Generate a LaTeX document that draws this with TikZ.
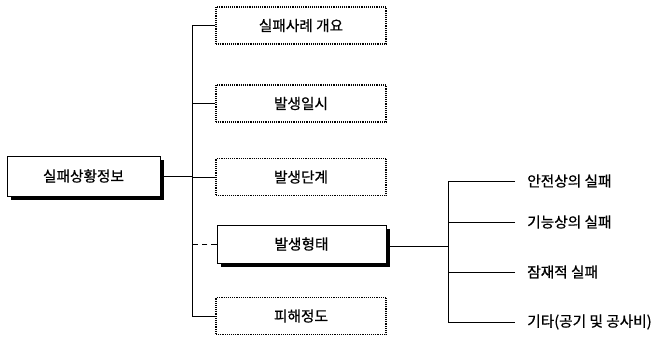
\documentclass[tikz,border=0pt]{standalone}
\usepackage{fontspec}
\setmainfont[FakeBold=0.8]{Noto Sans CJK KR}
\usetikzlibrary{shadows}
\begin{document}
\begin{tikzpicture}[x=0.75pt,y=-0.75pt,
  every node/.style={font=\fontsize{11pt}{13pt}\selectfont},
  dotbox/.style={draw, line width=1.1pt, dash pattern=on 0.7pt off 0.7pt, minimum width=127.5pt, minimum height=27.75pt, inner sep=0pt},
  shbox/.style={draw, fill=white, line width=0.6pt, inner sep=0pt,
     drop shadow={shadow xshift=3pt, shadow yshift=-3pt, fill=black, opacity=1}},
  conn/.style={line width=0.6pt},
  lab/.style={anchor=west, inner xsep=9pt, inner ysep=0pt}
]
\useasboundingbox (0,0) rectangle (659,338);
\node[shbox, minimum width=114.75pt, minimum height=30pt] (main) at (83.5,176) {실패상황정보};
\node[dotbox] (b1) at (301,25.5) {실패사례 개요};
\node[dotbox] (b2) at (301,103.5) {발생일시};
\node[dotbox] (b3) at (301,177) {발생단계};
\node[shbox, minimum width=126.75pt, minimum height=28.5pt] (b4) at (301.5,244) {발생형태};
\node[dotbox] (b5) at (301,316) {피해정도};

\coordinate (ttop) at (192,25.5);
\coordinate (tbot) at (192,316);
\draw[conn] (b1.west) -- (ttop) -- (tbot) -- (b5.west);
\draw[conn] (b2.west) -- (b2.west -| ttop);
\draw[conn] (main.east) -- (main.east -| ttop);
\draw[conn] (b3.west) -- (b3.west -| ttop);
\draw[conn, dash pattern=on 4pt off 3pt] (b4.west) -- (b4.west -| ttop);

\node[lab] (r1) at (515,181) {안전상의 실패};
\node[lab] (r2) at (515,222) {기능상의 실패};
\node[lab] (r3) at (515,272) {잠재적 실패};
\node[lab] (r4) at (515,322) {기타(공기 및 공사비)};
\coordinate (br) at (448,246);
\draw[conn] ([yshift=-1.5pt]b4.east) -- (br);
\draw[conn] (r1.west) -- (r1.west -| br) -- (r4.west -| br) -- (r4.west);
\draw[conn] (r2.west) -- (r2.west -| br);
\draw[conn] (r3.west) -- (r3.west -| br);
\end{tikzpicture}
\end{document}
